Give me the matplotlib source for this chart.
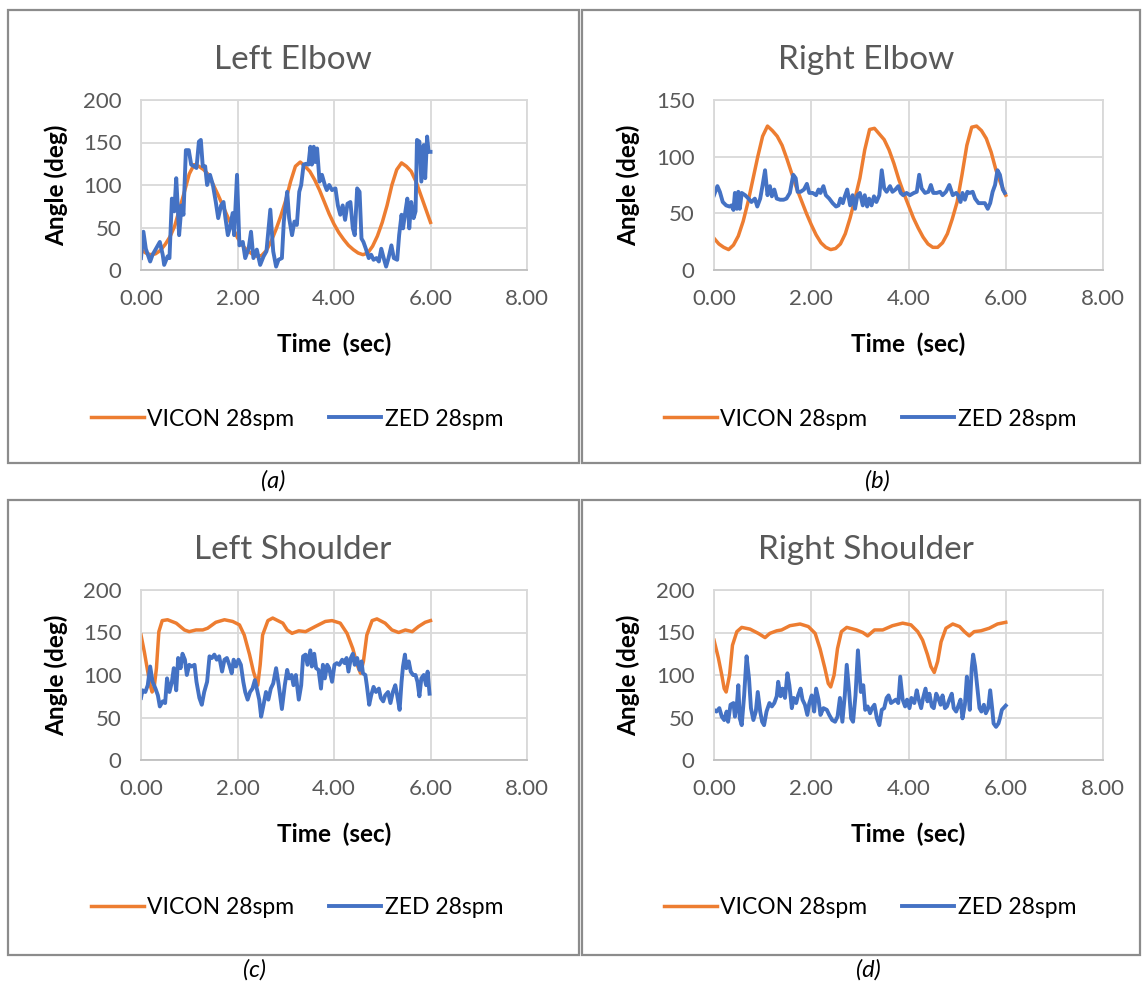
import matplotlib
matplotlib.use("Agg")
import matplotlib.pyplot as plt
from matplotlib.patches import Rectangle

plt.rcParams['font.family'] = ['Lato', 'DejaVu Sans']

# --- data ----------------------------------------------------------------
vicon_t = [0.0, 0.1, 0.2, 0.3, 0.4, 0.5, 0.6, 0.7, 0.8, 0.9,
           1.0, 1.1, 1.2, 1.3, 1.4, 1.5, 1.6, 1.7, 1.8, 1.9,
           2.0, 2.1, 2.2, 2.3, 2.4, 2.5, 2.6, 2.7, 2.8, 2.9,
           3.0, 3.1, 3.2, 3.3, 3.4, 3.5, 3.6, 3.7, 3.8, 3.9,
           4.0, 4.1, 4.2, 4.3, 4.4, 4.5, 4.6, 4.7, 4.8, 4.9,
           5.0, 5.1, 5.2, 5.3, 5.4, 5.5, 5.6, 5.7, 5.8, 5.9, 6.0]

# (a) Left Elbow
a_vicon = [24, 20, 18, 19, 23, 30, 39, 52, 72, 92,
           113, 124, 122, 118, 112, 100, 88, 75, 62, 50,
           38, 29, 23, 19, 16, 17, 23, 34, 48, 64,
           82, 104, 122, 127, 122, 116, 106, 94, 80, 66,
           54, 44, 36, 29, 24, 20, 18, 20, 28, 40,
           56, 76, 100, 118, 126, 122, 116, 104, 88, 72, 56]
a_zed_t = [0, 0.05, 0.1, 0.19, 0.24, 0.31, 0.39, 0.45, 0.48, 0.55,
           0.59, 0.64, 0.69, 0.73, 0.76, 0.79, 0.84, 0.88, 0.93, 0.99,
           1.04, 1.1, 1.15, 1.2, 1.24, 1.28, 1.33, 1.37, 1.43, 1.49,
           1.55, 1.6, 1.66, 1.71, 1.75, 1.8, 1.84, 1.9, 1.93, 1.99,
           2.04, 2.11, 2.16, 2.23, 2.28, 2.33, 2.4, 2.47, 2.54, 2.6,
           2.68, 2.74, 2.8, 2.85, 2.92, 2.96, 2.99, 3.03, 3.07, 3.13,
           3.18, 3.23, 3.28, 3.32, 3.37, 3.42, 3.47, 3.51, 3.54, 3.58,
           3.61, 3.65, 3.7, 3.75, 3.81, 3.85, 3.9, 3.96, 4.03, 4.08,
           4.13, 4.18, 4.23, 4.28, 4.34, 4.39, 4.43, 4.48, 4.53, 4.57,
           4.61, 4.66, 4.72, 4.77, 4.82, 4.88, 4.93, 4.98, 5.03, 5.08,
           5.13, 5.19, 5.24, 5.31, 5.35, 5.4, 5.43, 5.48, 5.52, 5.56,
           5.6, 5.65, 5.69, 5.72, 5.77, 5.81, 5.86, 5.89, 5.93, 5.96, 6.0]
a_zed = [14, 45, 25, 10, 18, 25, 33, 18, 6, 16,
         14, 84, 69, 108, 76, 41, 76, 65, 141, 141,
         124, 122, 120, 151, 153, 122, 122, 100, 112, 100,
         80, 61, 76, 80, 61, 41, 49, 67, 41, 112,
         29, 33, 14, 25, 45, 14, 24, 6, 16, 22,
         71, 22, 4, 12, 14, 57, 73, 92, 61, 41,
         57, 53, 92, 100, 124, 125, 124, 145, 124, 145,
         127, 143, 104, 112, 100, 94, 100, 94, 96, 76,
         65, 76, 59, 78, 80, 49, 41, 96, 92, 37,
         33, 25, 14, 18, 12, 14, 10, 25, 14, 4,
         14, 29, 14, 12, 41, 65, 49, 69, 84, 49,
         80, 61, 69, 153, 151, 104, 147, 108, 157, 139, 139]

# (b) Right Elbow
b_vicon = [28, 23, 20, 18, 22, 30, 43, 60, 80, 100,
           118, 127, 123, 118, 110, 98, 85, 72, 61, 50,
           40, 31, 24, 20, 18, 19, 23, 32, 46, 63,
           81, 106, 124, 125, 120, 115, 106, 94, 80, 68,
           57, 46, 37, 29, 23, 20, 20, 24, 32, 45,
           60, 84, 110, 126, 127, 123, 116, 104, 88, 76, 66]
b_zed_t = [0, 0.07, 0.12, 0.18, 0.25, 0.32, 0.36, 0.4, 0.43, 0.47,
           0.5, 0.53, 0.57, 0.64, 0.71, 0.77, 0.84, 0.89, 0.95, 1.0,
           1.05, 1.1, 1.15, 1.19, 1.24, 1.29, 1.36, 1.43, 1.49, 1.56,
           1.63, 1.68, 1.72, 1.78, 1.85, 1.91, 1.96, 2.03, 2.1, 2.15,
           2.19, 2.25, 2.3, 2.37, 2.44, 2.51, 2.56, 2.6, 2.65, 2.69,
           2.74, 2.8, 2.85, 2.9, 2.95, 3.0, 3.06, 3.1, 3.15, 3.19,
           3.24, 3.29, 3.34, 3.4, 3.45, 3.5, 3.55, 3.62, 3.67, 3.73,
           3.79, 3.84, 3.89, 3.96, 4.03, 4.11, 4.17, 4.22, 4.27, 4.34,
           4.41, 4.46, 4.51, 4.58, 4.65, 4.7, 4.77, 4.84, 4.91, 4.98,
           5.02, 5.07, 5.11, 5.16, 5.21, 5.26, 5.32, 5.37, 5.44, 5.5,
           5.57, 5.63, 5.68, 5.73, 5.78, 5.83, 5.88, 5.94, 5.98]
b_zed = [66, 74, 69, 60, 57, 56, 57, 53, 68, 54,
         69, 54, 68, 66, 63, 60, 63, 56, 63, 75,
         88, 66, 74, 65, 71, 63, 62, 62, 63, 68,
         84, 81, 69, 69, 71, 76, 68, 68, 66, 71,
         68, 74, 66, 63, 59, 56, 57, 63, 59, 65,
         71, 57, 66, 54, 66, 68, 57, 66, 56, 63,
         57, 65, 60, 66, 88, 72, 69, 74, 69, 71,
         74, 68, 66, 68, 66, 68, 69, 84, 72, 68,
         69, 75, 68, 68, 69, 66, 69, 75, 66, 68,
         66, 60, 68, 62, 69, 68, 69, 63, 59, 59,
         59, 54, 59, 69, 75, 88, 84, 71, 68]

# (c) Left Shoulder
c_vicon_t = [0, 0.07, 0.14, 0.19, 0.23, 0.27, 0.32, 0.37, 0.44, 0.55,
             0.73, 0.9, 1.0, 1.14, 1.28, 1.38, 1.55, 1.73, 1.9, 2.04,
             2.14, 2.25, 2.33, 2.42, 2.47, 2.52, 2.63, 2.73, 2.94, 3.03,
             3.13, 3.27, 3.41, 3.61, 3.82, 3.96, 4.13, 4.27, 4.39, 4.48,
             4.55, 4.61, 4.68, 4.79, 4.89, 5.06, 5.2, 5.34, 5.48, 5.62,
             5.75, 5.89, 6.0]
c_vicon = [147, 127, 104, 88, 80, 84, 108, 151, 164, 165,
           161, 153, 151, 153, 153, 155, 162, 165, 163, 159,
           147, 124, 104, 88, 112, 147, 164, 167, 161, 153,
           149, 152, 151, 157, 163, 164, 161, 149, 131, 112,
           102, 116, 147, 164, 166, 161, 153, 150, 153, 151,
           157, 162, 164]
c_zed_t = [0, 0.03, 0.09, 0.14, 0.19, 0.24, 0.3, 0.35, 0.39, 0.45,
           0.5, 0.54, 0.59, 0.64, 0.68, 0.73, 0.77, 0.82, 0.86, 0.91,
           0.95, 1.0, 1.05, 1.11, 1.15, 1.21, 1.26, 1.31, 1.37, 1.42,
           1.47, 1.52, 1.57, 1.62, 1.68, 1.73, 1.78, 1.83, 1.88, 1.92,
           1.97, 2.02, 2.07, 2.12, 2.16, 2.21, 2.26, 2.31, 2.36, 2.4,
           2.45, 2.49, 2.54, 2.59, 2.64, 2.69, 2.74, 2.8, 2.85, 2.92,
           2.98, 3.03, 3.07, 3.12, 3.16, 3.21, 3.27, 3.32, 3.36, 3.41,
           3.45, 3.51, 3.54, 3.59, 3.63, 3.68, 3.73, 3.77, 3.81, 3.86,
           3.9, 3.96, 4.01, 4.06, 4.11, 4.17, 4.22, 4.26, 4.3, 4.35,
           4.39, 4.43, 4.48, 4.53, 4.57, 4.6, 4.65, 4.68, 4.73, 4.77,
           4.82, 4.87, 4.93, 4.97, 5.02, 5.06, 5.12, 5.17, 5.22, 5.27,
           5.31, 5.36, 5.4, 5.43, 5.47, 5.5, 5.55, 5.59, 5.64, 5.69,
           5.73, 5.77, 5.81, 5.86, 5.91, 5.94, 5.98]
c_zed = [73, 82, 80, 88, 110, 92, 84, 76, 63, 69,
         67, 96, 80, 92, 108, 82, 120, 108, 125, 118,
         100, 112, 110, 112, 92, 73, 65, 80, 92, 122,
         120, 124, 118, 122, 104, 118, 120, 112, 102, 118,
         110, 118, 112, 92, 80, 71, 80, 84, 94, 84,
         71, 51, 65, 80, 71, 84, 90, 108, 90, 60,
         88, 106, 96, 100, 88, 100, 71, 88, 122, 124,
         112, 129, 110, 125, 108, 106, 84, 112, 96, 112,
         108, 92, 112, 114, 112, 118, 114, 120, 104, 120,
         125, 112, 120, 106, 116, 102, 100, 88, 65, 76,
         86, 80, 84, 73, 69, 76, 80, 67, 80, 88,
         76, 59, 92, 110, 124, 108, 116, 104, 100, 100,
         92, 75, 96, 100, 88, 104, 78]

# (d) Right Shoulder
d_vicon_t = [0, 0.09, 0.16, 0.21, 0.25, 0.32, 0.38, 0.47, 0.57, 0.74,
             0.91, 1.05, 1.15, 1.29, 1.39, 1.56, 1.77, 1.94, 2.08, 2.18,
             2.28, 2.35, 2.4, 2.47, 2.54, 2.62, 2.73, 2.93, 3.06, 3.16,
             3.3, 3.47, 3.67, 3.88, 4.05, 4.19, 4.29, 4.39, 4.46, 4.53,
             4.6, 4.67, 4.77, 4.91, 5.05, 5.15, 5.25, 5.35, 5.49, 5.66,
             5.83, 6.0]
d_vicon = [141, 120, 100, 84, 80, 100, 135, 151, 156, 154,
           149, 144, 149, 152, 153, 158, 160, 157, 149, 131,
           108, 90, 86, 100, 131, 151, 156, 153, 150, 146,
           153, 153, 158, 161, 159, 151, 141, 124, 110, 103,
           116, 139, 155, 160, 157, 151, 146, 151, 152, 155,
           160, 162]
d_zed_t = [0, 0.05, 0.11, 0.16, 0.21, 0.26, 0.29, 0.34, 0.4, 0.43,
           0.47, 0.5, 0.53, 0.57, 0.62, 0.67, 0.72, 0.76, 0.81, 0.86,
           0.9, 0.95, 0.99, 1.03, 1.08, 1.14, 1.19, 1.24, 1.29, 1.32,
           1.37, 1.41, 1.46, 1.51, 1.55, 1.6, 1.64, 1.69, 1.73, 1.78,
           1.82, 1.87, 1.92, 1.96, 2.01, 2.06, 2.1, 2.15, 2.19, 2.25,
           2.32, 2.37, 2.43, 2.49, 2.54, 2.59, 2.64, 2.69, 2.73, 2.78,
           2.82, 2.86, 2.91, 2.96, 3.02, 3.07, 3.11, 3.16, 3.21, 3.25,
           3.3, 3.35, 3.4, 3.45, 3.5, 3.55, 3.59, 3.64, 3.69, 3.74,
           3.79, 3.83, 3.88, 3.93, 3.97, 4.02, 4.06, 4.12, 4.17, 4.21,
           4.26, 4.3, 4.35, 4.39, 4.43, 4.48, 4.52, 4.57, 4.61, 4.66,
           4.7, 4.75, 4.79, 4.84, 4.89, 4.93, 4.98, 5.02, 5.07, 5.11,
           5.16, 5.2, 5.23, 5.26, 5.3, 5.33, 5.37, 5.41, 5.46, 5.5,
           5.55, 5.59, 5.64, 5.68, 5.72, 5.75, 5.8, 5.85, 5.88, 5.92,
           6.0]
d_zed = [59, 57, 61, 51, 47, 57, 45, 65, 67, 51,
         65, 88, 49, 41, 76, 122, 96, 61, 47, 57,
         80, 57, 45, 41, 57, 67, 63, 67, 75, 92,
         75, 84, 73, 102, 88, 61, 73, 67, 76, 84,
         71, 65, 53, 67, 76, 57, 84, 71, 53, 61,
         59, 53, 47, 45, 51, 73, 45, 76, 112, 80,
         49, 45, 76, 129, 80, 88, 59, 63, 55, 61,
         65, 49, 41, 59, 61, 73, 76, 67, 69, 71,
         67, 98, 71, 63, 71, 61, 73, 67, 82, 71,
         61, 73, 84, 69, 78, 63, 61, 78, 73, 65,
         76, 61, 63, 71, 78, 61, 57, 63, 71, 49,
         65, 98, 80, 59, 108, 124, 110, 88, 61, 57,
         65, 55, 61, 82, 61, 43, 39, 43, 49, 59,
         64]

titles = ["Left Elbow", "Right Elbow", "Left Shoulder", "Right Shoulder"]
captions = ["(a)", "(b)", "(c)", "(d)"]
y_max = [200, 150, 200, 200]
x_ticks = [0, 2, 4, 6, 8]

panels = [
    (vicon_t, a_vicon, a_zed_t, a_zed),
    (vicon_t, b_vicon, b_zed_t, b_zed),
    (c_vicon_t, c_vicon, c_zed_t, c_zed),
    (d_vicon_t, d_vicon, d_zed_t, d_zed),
]

ORANGE = "#ED7D31"
BLUE = "#4472C4"
GREY = "#595959"
GRID = "#D9D9D9"

W, H = 1144, 986
fig = plt.figure(figsize=(W / 100, H / 100), dpi=100)
fig.patch.set_facecolor("white")


def fx(px):
    return px / W


def fy(py):
    return 1 - py / H


# pixel layout of each panel: axes box, border box, title/legend/caption centres
axes_px = [(141, 100, 527, 270), (714, 100, 1103, 270),
           (141, 590, 527, 760), (714, 590, 1103, 760)]
border_px = [(8, 10, 579, 463), (582, 10, 1140, 463),
             (8, 500, 579, 955), (582, 500, 1140, 955)]
title_px = [(293, 60), (866, 60), (293, 550), (866, 550)]
legend_px = [(297, 419), (870, 419), (297, 908), (870, 908)]
caption_px = [(273, 481), (877, 481), (254, 970), (868, 970)]

for i, (vt, vv, zt, zv) in enumerate(panels):
    x0, y0, x1, y1 = border_px[i]
    fig.patches.append(Rectangle((fx(x0), fy(y1)), fx(x1 - x0), (y1 - y0) / H,
                                 transform=fig.transFigure, fill=False,
                                 edgecolor="#8C8C8C", linewidth=1.6))

    l, t, r, b = axes_px[i]
    ax = fig.add_axes([fx(l), fy(b), fx(r - l), (b - t) / H])
    ax.plot(vt, vv, color=ORANGE, lw=2.5, label="VICON 28spm", solid_joinstyle="round")
    ax.plot(zt, zv, color=BLUE, lw=2.8, label="ZED 28spm", solid_joinstyle="round")

    ax.set_xlim(0, 8)
    ax.set_ylim(0, y_max[i])
    ax.set_xticks(x_ticks)
    ax.set_xticklabels(["%.2f" % v for v in x_ticks])
    ax.set_yticks(range(0, y_max[i] + 1, 50))
    ax.grid(True, color=GRID, lw=1.3)
    ax.set_axisbelow(True)
    for s in ax.spines.values():
        s.set_color(GRID)
        s.set_linewidth(1.3)
    ax.spines["bottom"].set_color("#BFBFBF")
    ax.tick_params(length=0, labelsize=16, labelcolor=GREY, pad=14)

    ax.set_xlabel("Time  (sec)", fontsize=17.5, fontweight="bold")
    ax.xaxis.set_label_coords(0.5, -0.37)
    ax.set_ylabel("Angle (deg)", fontsize=17.5, fontweight="bold")
    ax.yaxis.set_label_coords(-0.19, 0.5)

    tx, ty = title_px[i]
    fig.text(fx(tx), fy(ty), titles[i], fontsize=24, color=GREY,
             ha="center", va="center")

    lx, ly = legend_px[i]
    ax.legend(loc="center", bbox_to_anchor=(fx(lx), fy(ly)),
              bbox_transform=fig.transFigure, ncol=2, frameon=False,
              fontsize=16.5, handlelength=2.3, handletextpad=0.15,
              columnspacing=1.5)

    cx, cy = caption_px[i]
    fig.text(fx(cx), fy(cy), captions[i], fontsize=17, style="italic",
             ha="center", va="center")

fig.savefig("out.png", dpi=100)
